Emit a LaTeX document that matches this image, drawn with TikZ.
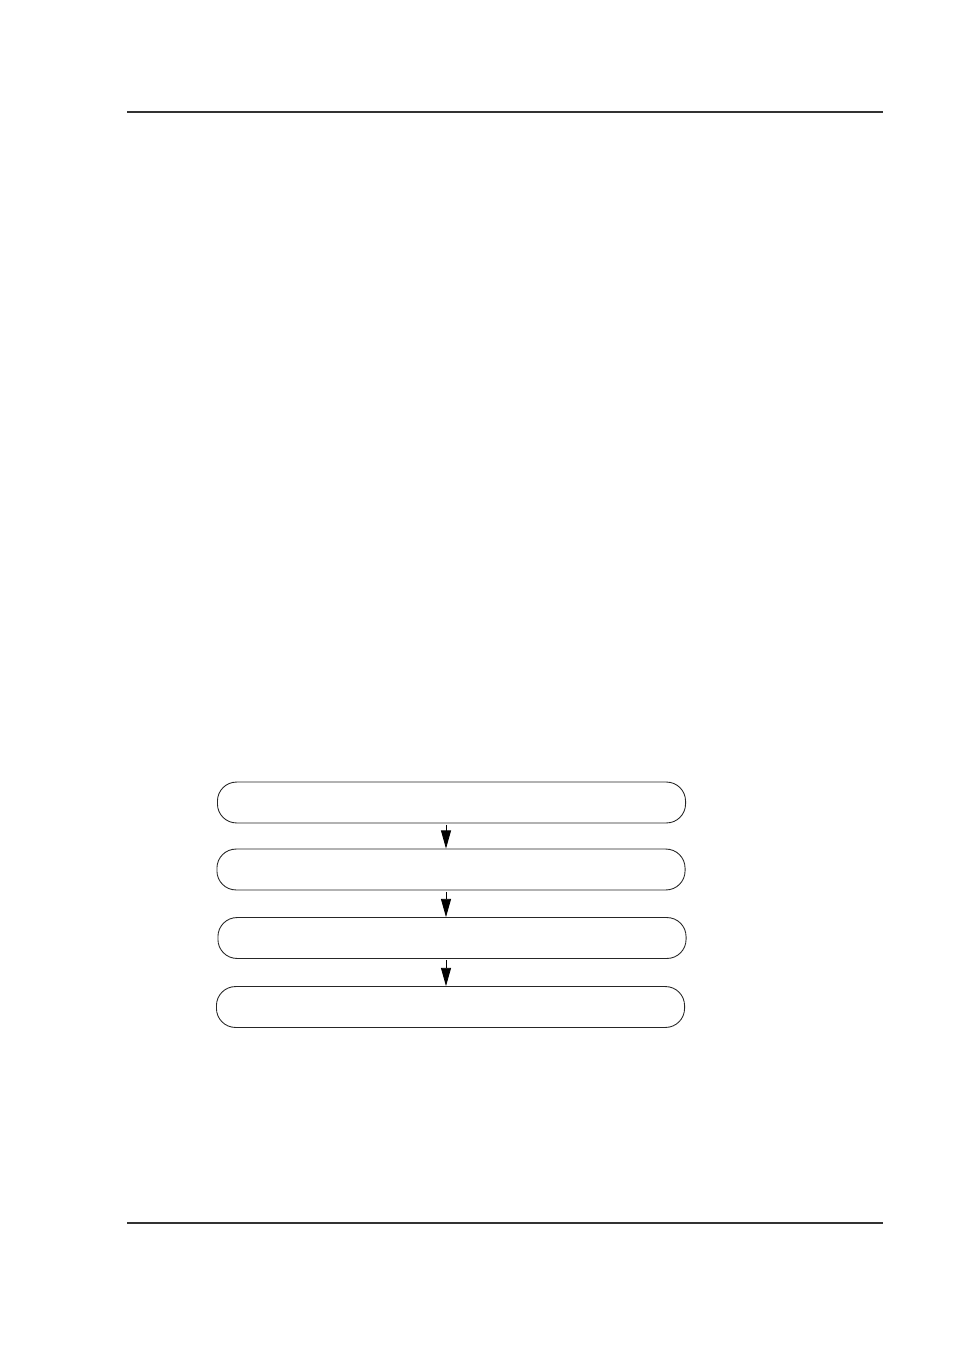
\documentclass[tikz,border=0pt]{standalone}
\usetikzlibrary{arrows.meta}
\begin{document}
\begin{tikzpicture}[x=0.022cm, y=-0.022cm]
        % page frame (954 x 1350 px)
        \useasboundingbox (0,0) rectangle (954,1350);

        % header and footer rules
        \draw[line width=0.7pt, black!80] (127,112) -- (883,112);
        \draw[line width=0.7pt, black!80] (127,1223) -- (883,1223);

        % flow boxes
        \tikzstyle{stepbox} = [rectangle, rounded corners=0.42cm, draw=black!85, line width=0.55pt, minimum width=10.3cm, minimum height=0.9cm, inner sep=0pt]
        \tikzstyle{flowarrow} = [line width=0.5pt, -{Triangle[length=0.4cm, width=0.22cm]}, shorten <=1pt]

        \node[stepbox] (b1) at (451.5, 802.5) {};
        \node[stepbox] (b2) at (451, 869.5) {};
        \node[stepbox] (b3) at (452, 938) {};
        \node[stepbox] (b4) at (450.5, 1007) {};

        % arrows between boxes
        \coordinate (ax) at (446, 0);
        \draw[flowarrow] (b1.south -| ax) -- (b2.north -| ax);
        \draw[flowarrow] (b2.south -| ax) -- (b3.north -| ax);
        \draw[flowarrow] (b3.south -| ax) -- (b4.north -| ax);

    \end{tikzpicture}
\end{document}
